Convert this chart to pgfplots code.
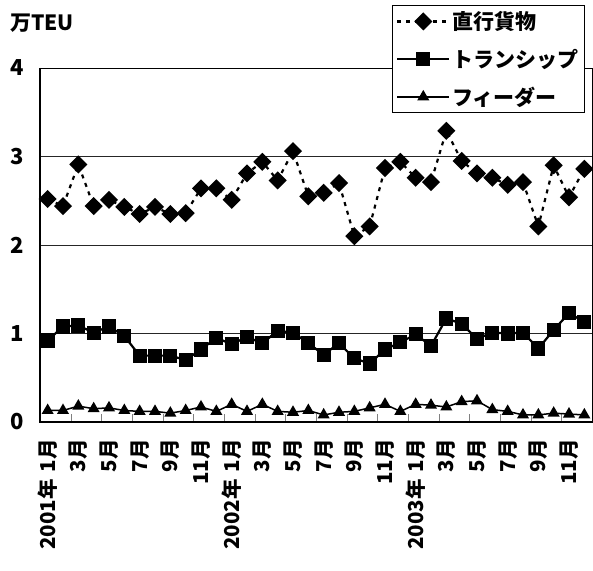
\documentclass[border=0pt]{standalone}
\usepackage{pgfplots}
\usepackage{pgfplotstable}
\pgfplotsset{compat=1.18}
\usepackage{fontspec}
\setmainfont{Noto Sans CJK JP}
\pgfplotstableread{
m d t f
1 2.52 0.92 0.13
2 2.44 1.08 0.13
3 2.91 1.09 0.18
4 2.44 1.01 0.15
5 2.51 1.08 0.16
6 2.43 0.97 0.13
7 2.35 0.75 0.12
8 2.43 0.75 0.12
9 2.35 0.75 0.10
10 2.36 0.70 0.13
11 2.64 0.82 0.17
12 2.64 0.95 0.12
13 2.51 0.88 0.20
14 2.81 0.96 0.12
15 2.94 0.89 0.20
16 2.73 1.03 0.12
17 3.06 1.01 0.11
18 2.55 0.89 0.13
19 2.59 0.76 0.08
20 2.70 0.89 0.11
21 2.10 0.72 0.12
22 2.21 0.66 0.16
23 2.87 0.82 0.20
24 2.94 0.90 0.12
25 2.76 0.99 0.20
26 2.71 0.86 0.19
27 3.29 1.17 0.17
28 2.95 1.11 0.23
29 2.81 0.94 0.24
30 2.76 1.01 0.14
31 2.68 1.00 0.12
32 2.71 1.01 0.08
33 2.21 0.83 0.08
34 2.90 1.04 0.10
35 2.54 1.23 0.09
36 2.86 1.13 0.08
}\data
\begin{document}
\begin{tikzpicture}
\begin{axis}[
  scale only axis, width=552pt, height=354pt,
  xmin=0.5, xmax=36.5, ymin=0, ymax=4,
  axis line style={line width=0.6pt},
  xtick={1,3,...,35},
  xticklabels={{2001年\hspace{0.35em}1月},3月,5月,7月,9月,11月,{2002年\hspace{0.35em}1月},3月,5月,7月,9月,11月,{2003年\hspace{0.35em}1月},3月,5月,7月,9月,11月},
  minor xtick={2.5,4.5,...,34.5},
  major x tick style={draw=none},
  minor tick length=8pt,
  tick align=inside,
  xtick pos=left, ytick pos=left,
  ytick={0,1,2,3,4},
  major y tick style={draw=none},
  ymajorgrids, grid style={black!85, line width=0.9pt},
  /pgf/number format/assume math mode=true,
  yticklabel style={font=\fontsize{22}{24}\selectfont\bfseries, inner sep=0pt, anchor=east},
  yticklabel shift=16pt,
  xticklabel style={font=\fontsize{20.5}{22}\selectfont\bfseries, rotate=90, anchor=east, inner sep=0pt},
  xticklabel shift=17pt,
  legend style={at={(1,1)}, anchor=north east, xshift=-7pt, yshift=63pt,
    draw=black, line width=1.2pt, fill=white,
    font=\fontsize{21}{23}\selectfont\bfseries, row sep=14pt, inner sep=4pt},
  legend cell align=left,
  legend image code/.code={\draw[mark repeat=2,mark phase=2] plot coordinates {(0pt,0pt) (26pt,0pt) (52pt,0pt)};},
  clip=false,
]
\addplot[black, line width=2.2pt, dash pattern=on 4pt off 5pt, mark=square*, mark size=5.3pt, mark options={solid, rotate=45}] table[x=m,y=d]{\data};
\addlegendentry{直行貨物}
\addplot[black, line width=2.2pt, mark=square*, mark size=6pt, mark options={solid}] table[x=m,y=t]{\data};
\addlegendentry{トランシップ}
\addplot[black, line width=1.5pt, mark=triangle*, mark size=5.5pt, mark options={solid}] table[x=m,y=f]{\data};
\addlegendentry{フィーダー}
\draw[black, line width=2pt] (rel axis cs:0,1) -- (rel axis cs:0,0) -- (rel axis cs:1,0);
\node[anchor=base west, inner sep=0pt, font=\fontsize{21}{23}\selectfont\bfseries] at ([xshift=-30pt, yshift=37pt]rel axis cs:0,1) {万TEU};
\coordinate (bl) at (rel axis cs:0,0);
\coordinate (tr) at (rel axis cs:1,1);
\end{axis}
\pgfresetboundingbox
\path[use as bounding box] ([xshift=-40pt,yshift=-148pt]bl) rectangle ([xshift=1pt,yshift=68pt]tr);
\end{tikzpicture}
\end{document}
